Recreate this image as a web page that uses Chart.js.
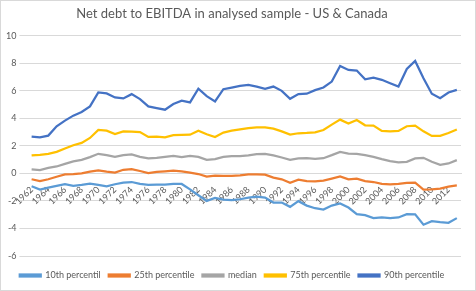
<!DOCTYPE html>
<html>
<head>
<meta charset="utf-8">
<script src="https://cdn.jsdelivr.net/npm/chart.js@4/dist/chart.umd.min.js"></script>
<style>
  body { margin: 0; background: #fff; }
  #wrap { width: 476px; height: 291px; box-sizing: border-box; border: 1px solid #d9d9d9; }
</style>
</head>
<body>
<div id="wrap"><canvas id="debtChart"></canvas></div>
<script>
// years along the x-axis
var years = [];
for (var y = 1962; y <= 2013; y++) years.push(String(y));

// net debt / EBITDA per percentile
var p10 = [-0.94,-1.18,-1.04,-0.91,-0.79,-0.91,-0.84,-0.75,-0.84,-0.94,-0.79,-0.68,-0.63,
           -0.77,-0.84,-0.82,-0.82,-0.77,-0.77,-1.16,-1.59,-2.00,-1.78,-1.90,-1.95,-1.88,
           -1.76,-1.69,-1.76,-2.12,-2.12,-2.43,-2.02,-2.34,-2.53,-2.63,-2.34,-2.19,-2.48,
           -2.96,-3.03,-3.25,-3.20,-3.25,-3.20,-2.96,-2.98,-3.73,-3.47,-3.54,-3.59,-3.25];
var p25 = [-0.43,-0.56,-0.43,-0.25,-0.07,-0.05,0.00,0.12,0.22,0.12,0.05,0.26,0.31,
           0.17,0.02,0.10,0.14,0.19,0.14,0.05,-0.05,-0.24,-0.17,-0.19,-0.19,-0.14,
           -0.07,-0.07,-0.10,-0.31,-0.43,-0.68,-0.46,-0.56,-0.58,-0.53,-0.38,-0.22,-0.43,
           -0.38,-0.56,-0.63,-0.77,-0.80,-0.77,-0.70,-0.68,-1.18,-1.16,-1.11,-0.96,-0.87];
var median = [0.29,0.24,0.40,0.50,0.69,0.87,0.98,1.18,1.42,1.32,1.20,1.32,1.37,
              1.20,1.08,1.13,1.20,1.27,1.18,1.27,1.20,0.98,1.03,1.20,1.25,1.25,
              1.30,1.39,1.42,1.30,1.15,0.98,1.08,1.10,1.06,1.10,1.32,1.56,1.44,
              1.42,1.32,1.20,1.03,0.89,0.79,0.84,1.08,1.13,0.84,0.62,0.72,0.96];
var p75 = [1.30,1.34,1.42,1.56,1.80,2.04,2.21,2.57,3.15,3.10,2.86,3.05,3.03,
           3.00,2.64,2.66,2.62,2.77,2.79,2.81,3.10,2.84,2.64,2.96,3.10,3.20,
           3.29,3.34,3.34,3.25,3.05,2.81,2.91,2.93,2.98,3.15,3.54,3.90,3.61,
           3.87,3.49,3.47,3.08,3.05,3.08,3.42,3.47,3.05,2.72,2.72,2.93,3.18];
var p90 = [2.67,2.62,2.74,3.42,3.83,4.19,4.45,4.86,5.87,5.80,5.51,5.44,5.75,
           5.39,4.86,4.74,4.62,5.03,5.27,5.15,6.14,5.60,5.22,6.11,6.23,6.35,
           6.42,6.30,6.14,6.30,5.99,5.41,5.75,5.78,6.04,6.23,6.66,7.80,7.51,
           7.46,6.83,6.95,6.79,6.54,6.30,7.58,8.16,6.90,5.78,5.46,5.87,6.06];

function series(label, data, color) {
  return {
    label: label,
    data: data,
    borderColor: color,
    backgroundColor: color,
    borderWidth: 2.25,
    pointRadius: 0,
    tension: 0
  };
}

var fontFam = "Lato, 'Open Sans', sans-serif";

new Chart(document.getElementById("debtChart"), {
  type: 'line',
  data: {
    labels: years,
    datasets: [
      series("10th percentil", p10, "#5B9BD5"),
      series("25th percentile", p25, "#ED7D31"),
      series("median", median, "#A5A5A5"),
      series("75th percentile", p75, "#FFC000"),
      series("90th percentile", p90, "#4472C4")
    ]
  },
  options: {
    responsive: true,
    maintainAspectRatio: false,
    animation: false,
    layout: { padding: { left: 2, right: 14, top: 0, bottom: 0 } },
    plugins: {
      title: {
        display: true,
        text: "Net debt to EBITDA in analysed sample - US & Canada",
        color: "#595959",
        font: { family: fontFam, size: 13, weight: 'normal' },
        padding: { top: 5, bottom: 14 }
      },
      legend: {
        position: 'bottom',
        // empty title only used as spacing between plot and legend
        title: { display: true, text: ' ', padding: 0, font: { size: 5, lineHeight: 1.4 } },
        labels: {
          color: "#595959",
          font: { family: fontFam, size: 9 },
          boxWidth: 21,
          boxHeight: 2,
          padding: 8
        }
      },
      tooltip: { enabled: false }
    },
    scales: {
      x: {
        position: { y: 0 },
        offset: true,
        grid: { display: false },
        border: { color: "#d9d9d9" },
        ticks: {
          autoSkip: false,
          maxRotation: 45,
          minRotation: 45,
          color: "#595959",
          font: { family: fontFam, size: 9 },
          callback: function (v, i) { return i % 2 === 0 ? years[i] : ''; }
        }
      },
      y: {
        min: -6,
        max: 10,
        grid: { color: "#d9d9d9" },
        border: { display: false },
        ticks: {
          stepSize: 2,
          color: "#595959",
          font: { family: fontFam, size: 9 }
        }
      }
    }
  }
});
</script>
</body>
</html>
